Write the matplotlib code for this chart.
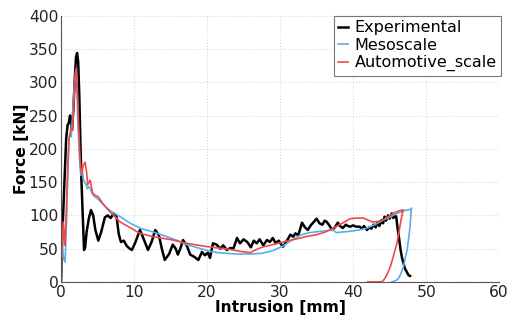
import numpy as np
import matplotlib.pyplot as plt

# Experimental (intrusion mm, force kN)
exp_x = [0.0, 0.15, 0.3, 0.5, 0.7, 0.9, 1.05, 1.23, 1.4, 1.5, 1.7, 1.9, 2.05, 2.2, 2.35, 2.5,
         2.65, 2.8, 3.0, 3.15, 3.3, 3.5, 3.8, 4.1, 4.4, 4.7, 5.1, 5.5, 6.0, 6.4, 6.8, 7.2, 7.6,
         7.9, 8.2, 8.6, 9.0, 9.4, 9.7, 10.2, 10.8, 11.3, 11.9, 12.4, 12.9, 13.4, 13.8, 14.2,
         14.8, 15.3, 15.7, 16.0, 16.4, 16.7, 17.2, 17.7, 18.2, 18.8, 19.3, 19.7, 20.1, 20.4,
         20.8, 21.3, 21.8, 22.2, 22.7, 23.2, 23.6, 24.1, 24.5, 25.0, 25.5, 26.0, 26.4, 26.8,
         27.2, 27.7, 28.2, 28.6, 29.0, 29.4, 29.8, 30.1, 30.4, 30.8, 31.1, 31.4, 31.8, 32.1,
         32.5, 33.0, 33.4, 33.8, 34.2, 34.6, 35.0, 35.4, 35.8, 36.1, 36.4, 36.8, 37.1, 37.5,
         37.9, 38.2, 38.6, 39.0, 39.3, 39.6, 40.0, 40.4, 40.9, 41.2, 41.5, 41.9, 42.2, 42.5,
         42.8, 43.1, 43.3, 43.6, 43.9, 44.1, 44.3, 44.5, 44.8, 45.0, 45.3, 45.5, 45.7, 45.9,
         46.1, 46.3, 46.5, 46.7, 46.9, 47.1, 47.4, 47.6, 47.8]
exp_y = [0, 60, 105, 160, 215, 236, 238, 250, 240, 228, 262, 310, 338, 344, 330, 280,
         210, 150, 90, 48, 52, 75, 95, 108, 100, 78, 62, 75, 97, 100, 96, 103, 98,
         72, 60, 62, 54, 50, 48, 60, 78, 65, 48, 60, 78, 70, 50, 33,
         42, 56, 50, 41, 52, 63, 55, 41, 38, 33, 45, 40, 44, 36,
         58, 56, 50, 55, 48, 51, 50, 66, 58, 64, 60, 52, 62, 58,
         64, 55, 63, 60, 66, 58, 62, 57, 53, 60, 65, 71, 68, 73,
         70, 89, 82, 78, 85, 90, 95, 88, 86, 92, 90, 84, 78, 82,
         89, 84, 81, 86, 84, 83, 85, 83, 83, 80, 84, 78, 82, 80,
         86, 82, 89, 84, 93, 88, 98, 92, 100, 95, 103, 96, 100, 98,
         80, 65, 48, 36, 28, 20, 14, 10, 9]

# Mesoscale simulation
meso_x = [0.0, 0.1, 0.2, 0.35, 0.55, 0.75, 0.95, 1.1, 1.25, 1.4, 1.6, 1.8, 2.0, 2.15, 2.3,
          2.5, 2.7, 2.9, 3.05, 3.2, 3.4, 3.6, 3.8, 4.0, 4.3, 4.6, 5.1, 5.6, 6.3, 7.0, 8.1,
          9.5, 11.0, 12.6, 14.5, 16.0, 17.2, 18.5, 20.4, 21.5, 22.7, 24.0, 25.5, 26.3, 27.5,
          29.0, 30.4, 31.5, 32.7, 34.0, 35.5, 37.3, 37.7, 38.5, 39.6, 40.8, 41.9, 43.0, 44.1,
          45.0, 46.0, 47.0, 47.8, 48.0, 47.9, 47.8, 47.6, 47.4, 47.1, 46.9, 46.6, 46.3, 46.0,
          45.6, 45.3]
meso_y = [0, 55, 50, 35, 30, 90, 170, 218, 222, 218, 255, 293, 316, 298, 240,
          190, 160, 168, 155, 150, 147, 140, 143, 140, 132, 128, 124, 118, 111, 105, 98,
          88, 80, 75, 68, 62, 56, 52, 46, 44, 43, 42, 42, 42, 43,
          47, 54, 62, 70, 74, 76, 78, 74, 75, 76, 78, 81, 86, 93,
          97, 103, 107, 109, 111, 100, 83, 65, 48, 34, 23, 14, 7, 3,
          1, 0]

# Automotive-scale simulation
auto_x = [0.0, 0.1, 0.3, 0.45, 0.55, 0.7, 0.9, 1.1, 1.23, 1.4, 1.55, 1.75, 1.9, 2.05, 2.2,
          2.4, 2.6, 2.8, 3.05, 3.3, 3.5, 3.65, 3.85, 4.0, 4.2, 4.35, 4.7, 5.1, 5.7, 6.3, 7.2,
          8.1, 9.4, 10.8, 12.6, 15.3, 17.2, 20.0, 21.5, 23.0, 24.5, 25.9, 26.6, 27.5, 29.0,
          30.4, 32.0, 33.5, 35.0, 36.2, 37.3, 38.5, 39.6, 40.5, 41.4, 42.0, 42.7, 43.4, 44.1,
          44.8, 45.5, 46.1, 46.7, 46.9, 46.8, 46.6, 46.4, 46.2, 46.0, 45.6, 45.1, 44.6, 44.2,
          43.9, 43.0, 42.0]
auto_y = [0, 50, 90, 70, 55, 100, 170, 215, 223, 231, 228, 270, 305, 321, 300,
          240, 185, 161, 175, 180, 165, 146, 150, 153, 140, 133, 130, 128, 118, 110, 100,
          90, 82, 73, 68, 63, 58, 53, 51, 49, 46, 44, 48, 52, 56,
          60, 64, 68, 71, 75, 81, 88, 95, 96, 96, 93, 90, 91, 93,
          98, 103, 106, 108, 108, 106, 95, 83, 70, 58, 42, 23, 10, 3,
          0, 0, 0]

fig = plt.figure(figsize=(5.13, 3.2), dpi=100)
ax = fig.add_axes([0.119, 0.119, 0.854, 0.832])

ax.plot(exp_x, exp_y, color="black", lw=1.8, label="Experimental")
ax.plot(meso_x, meso_y, color="#5aaee8", lw=1.2, label="Mesoscale")
ax.plot(auto_x, auto_y, color="#ee4a4a", lw=1.2, label="Automotive_scale")

ax.set_xlim(0, 60)
ax.set_ylim(0, 400)
ax.set_xticks(range(0, 61, 10))
ax.set_yticks(range(0, 401, 50))
ax.grid(True, color="#d8d8d8", ls=":", lw=0.8)
ax.set_axisbelow(True)
for s in ("top", "right"):
    ax.spines[s].set_visible(False)
for s in ("left", "bottom"):
    ax.spines[s].set_color("#555555")
ax.tick_params(labelsize=11.2, length=0, pad=2, colors="#222222")
ax.set_xlabel("Intrusion [mm]", fontsize=11.2, fontweight="bold", labelpad=0)
ax.set_ylabel("Force [kN]", fontsize=11.2, fontweight="bold", labelpad=-0.5)

leg = ax.legend(loc="upper right", bbox_to_anchor=(1.005, 1.0), fontsize=11.5,
                handlelength=0.6, handletextpad=0.4, borderpad=0.3, labelspacing=0.15,
                fancybox=False, framealpha=1, edgecolor="#777777", borderaxespad=0.0)
leg.get_frame().set_linewidth(0.8)

fig.savefig("out.png", dpi=100)
